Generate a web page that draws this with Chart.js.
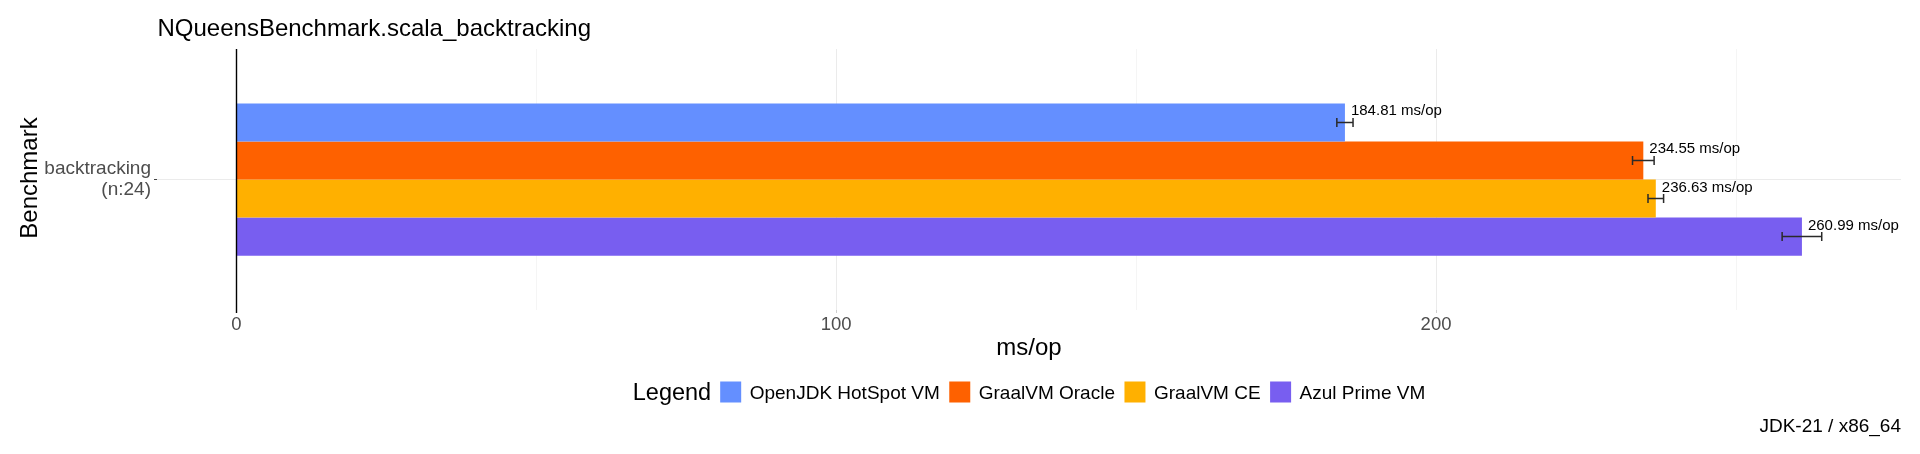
<!DOCTYPE html>
<html><head><meta charset="utf-8">
<script src="https://cdn.jsdelivr.net/npm/chart.js@4"></script>
<style>html,body{margin:0;padding:0;background:#fff;overflow:hidden}#wrap{width:1920px;height:454px;position:relative}</style>
</head><body><div id="wrap"><canvas id="c" width="1920" height="454"></canvas></div>
<script>
const chartTitle = 'NQueensBenchmark.scala_backtracking';
const categories = [['backtracking', '(n:24)']];
const seriesNames = ['OpenJDK HotSpot VM', 'GraalVM Oracle', 'GraalVM CE', 'Azul Prime VM'];
const seriesColors = ['#648FFF', '#FE6100', '#FFB000', '#785EF0'];
const scores = [184.81, 234.55, 236.63, 260.99];
const errors = [1.35, 1.8, 1.3, 3.3];
const xMajorTicks = [0, 100, 200];
const xMinorTicks = [50, 150, 250];
const unit = 'ms/op';
const yTitle = 'Benchmark';
const legendTitle = 'Legend';
const caption = 'JDK-21 / x86_64';

const FONT = "'Liberation Sans', Arial, sans-serif";
const maxExt = Math.max(...scores.map((s, i) => s + errors[i]));

const overlay = {
  id: 'overlay',
  afterDatasetsDraw(chart) {
    const ctx = chart.ctx, xs = chart.scales.x, ca = chart.chartArea;
    ctx.save();
    // zero line
    const x0 = Math.round(xs.getPixelForValue(0)) + 0.5;
    ctx.strokeStyle = '#000'; ctx.lineWidth = 1.4;
    ctx.beginPath(); ctx.moveTo(x0, ca.top); ctx.lineTo(x0, ca.bottom + 3); ctx.stroke();
    chart.data.datasets.forEach((ds, i) => {
      const bar = chart.getDatasetMeta(i).data[0];
      const y = bar.y;
      const xl = xs.getPixelForValue(scores[i] - errors[i]);
      const xr = xs.getPixelForValue(scores[i] + errors[i]);
      ctx.strokeStyle = '#2a2a2a'; ctx.lineWidth = 1.5;
      ctx.beginPath();
      ctx.moveTo(xl, y); ctx.lineTo(xr, y);
      ctx.moveTo(xl, y - 4.5); ctx.lineTo(xl, y + 4.5);
      ctx.moveTo(xr, y - 4.5); ctx.lineTo(xr, y + 4.5);
      ctx.stroke();
      ctx.fillStyle = '#000'; ctx.font = '15px ' + FONT;
      ctx.textAlign = 'left'; ctx.textBaseline = 'alphabetic';
      ctx.fillText(scores[i].toFixed(2) + ' ' + unit, bar.x + 6, y - 7);
    });
    ctx.restore();
  },
  afterDraw(chart) {
    const ctx = chart.ctx, ca = chart.chartArea;
    ctx.save();
    ctx.fillStyle = '#000';
    ctx.textBaseline = 'alphabetic';
    // title
    ctx.font = '24px ' + FONT; ctx.textAlign = 'left';
    ctx.fillText(chartTitle, ca.left + 0.5, 35.5);
    // x title
    ctx.textAlign = 'center';
    ctx.fillText(unit, (ca.left + ca.right) / 2, 355);
    // y title
    ctx.save();
    ctx.translate(36.5, (ca.top + ca.bottom) / 2 - 1.5);
    ctx.rotate(-Math.PI / 2);
    ctx.fillText(yTitle, 0, 0);
    ctx.restore();
    // legend
    ctx.font = '23.5px ' + FONT;
    const wT = ctx.measureText(legendTitle).width;
    ctx.font = '19px ' + FONT;
    const ws = seriesNames.map(n => ctx.measureText(n).width);
    const box = 21, gapBox = 8.5, gapItem = 9.5, gapTitle = 9;
    let total = wT + gapTitle + ws.reduce((a, w) => a + box + gapBox + w, 0) + gapItem * (seriesNames.length - 1);
    let x = (ca.left + ca.right) / 2 - total / 2;
    ctx.textAlign = 'left';
    ctx.font = '23.5px ' + FONT;
    ctx.fillText(legendTitle, x, 400);
    x += wT + gapTitle;
    ctx.font = '19px ' + FONT;
    seriesNames.forEach((n, i) => {
      ctx.fillStyle = seriesColors[i];
      ctx.fillRect(x, 381.5, box, box);
      x += box + gapBox;
      ctx.fillStyle = '#000';
      ctx.fillText(n, x, 398.5);
      x += ws[i] + gapItem;
    });
    // caption
    ctx.textAlign = 'right';
    ctx.fillText(caption, ca.right, 431.5);
    ctx.restore();
  }
};

new Chart(document.getElementById('c'), {
  type: 'bar',
  data: {
    labels: categories,
    datasets: seriesNames.map((n, i) => ({
      label: n,
      data: [scores[i]],
      backgroundColor: seriesColors[i],
      borderWidth: 0,
      categoryPercentage: 0.7 / 1.2,
      barPercentage: 1
    }))
  },
  options: {
    indexAxis: 'y',
    responsive: false,
    animation: false,
    devicePixelRatio: 1,
    layout: { padding: { top: 49, right: 19, bottom: 84, left: 0 } },
    plugins: { legend: { display: false }, tooltip: { enabled: false }, title: { display: false } },
    scales: {
      x: {
        type: 'linear',
        min: -0.05 * maxExt,
        max: 1.05 * maxExt,
        afterBuildTicks(s) {
          s.ticks = [...xMajorTicks, ...xMinorTicks].sort((a, b) => a - b).map(v => ({ value: v }));
        },
        afterFit(s) { s.height = 60; },
        border: { display: false },
        grid: {
          color: c => (c.tick && c.tick.value === 0) ? 'rgba(0,0,0,0)' : (c.tick && xMajorTicks.includes(c.tick.value) ? '#ebebeb' : '#f5f5f5'),
          tickColor: c => (c.tick && xMajorTicks.includes(c.tick.value) && c.tick.value !== 0) ? '#cfcfcf' : 'rgba(0,0,0,0)',
          tickLength: 3,
          lineWidth: 1
        },
        ticks: {
          autoSkip: false,
          maxRotation: 0,
          padding: 1,
          color: '#4d4d4d',
          font: { family: FONT, size: 18.5 },
          callback: v => xMajorTicks.includes(v) ? String(v) : ''
        }
      },
      y: {
        type: 'category',
        offset: true,
        afterFit(s) { s.width = 157; },
        border: { display: false },
        grid: { offset: false, color: '#ebebeb', tickColor: '#444', tickLength: 3, lineWidth: 1 },
        ticks: { color: '#4d4d4d', padding: 3, font: { family: FONT, size: 19, lineHeight: 1.1 } }
      }
    }
  },
  plugins: [overlay]
});
</script>
</body></html>
